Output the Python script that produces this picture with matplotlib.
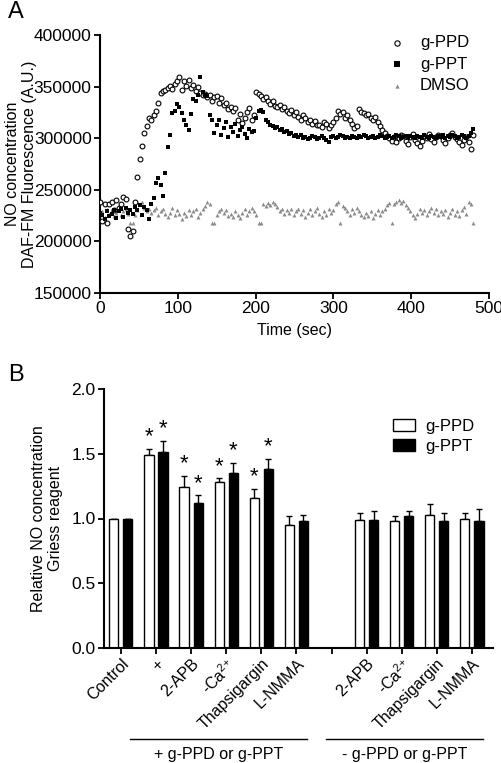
import numpy as np
import matplotlib

matplotlib.use("Agg")
import matplotlib.pyplot as plt
from matplotlib.lines import Line2D
import matplotlib.transforms as mtrans

plt.rcParams["font.family"] = ["Liberation Sans", "DejaVu Sans"]
plt.rcParams["mathtext.default"] = "regular"

# ---- Panel A: DAF-FM fluorescence, one reading every 3 s (0..480 s)
time_step = 3
ppd_fluo = [
    238000, 220000, 236000, 218000, 236000, 238000, 230000, 240000, 232000, 236000,
    243000, 241000, 212000, 205000, 210000, 238000, 262000, 280000, 292000, 305000,
    312000, 320000, 318000, 322000, 326000, 334000, 344000, 346000, 347000, 349000,
    351000, 348000, 353000, 355000, 359000, 347000, 355000, 351000, 356000, 349000,
    352000, 346000, 350000, 344000, 342000, 343000, 340000, 342000, 336000, 340000,
    341000, 334000, 339000, 332000, 334000, 328000, 330000, 326000, 329000, 318000,
    323000, 315000, 320000, 325000, 329000, 318000, 322000, 345000, 343000, 341000,
    338000, 340000, 336000, 333000, 336000, 331000, 330000, 332000, 328000, 330000,
    326000, 324000, 327000, 322000, 325000, 321000, 318000, 322000, 320000, 316000,
    318000, 314000, 317000, 313000, 313000, 311000, 316000, 314000, 310000, 313000,
    316000, 320000, 326000, 323000, 325000, 320000, 322000, 318000, 314000, 310000,
    312000, 328000, 325000, 324000, 322000, 323000, 320000, 318000, 321000, 316000,
    312000, 308000, 305000, 302000, 300000, 297000, 301000, 296000, 300000, 303000,
    302000, 297000, 294000, 301000, 304000, 298000, 295000, 292000, 297000, 302000,
    300000, 304000, 299000, 296000, 301000, 303000, 302000, 298000, 295000, 300000,
    303000, 305000, 301000, 299000, 296000, 293000, 298000, 301000, 296000, 290000,
    303000,
]
ppt_fluo = [
    228000, 226000, 222000, 229000, 225000, 227000, 230000, 223000, 229000, 231000,
    224000, 232000, 228000, 230000, 227000, 233000, 230000, 235000, 226000, 233000,
    230000, 222000, 236000, 242000, 257000, 261000, 255000, 244000, 266000, 291000,
    303000, 324000, 326000, 333000, 330000, 324000, 318000, 313000, 308000, 323000,
    338000, 336000, 342000, 359000, 345000, 342000, 341000, 322000, 318000, 305000,
    313000, 318000, 303000, 310000, 316000, 301000, 311000, 306000, 314000, 302000,
    308000, 311000, 304000, 300000, 309000, 306000, 307000, 320000, 326000, 327000,
    325000, 318000, 316000, 313000, 312000, 310000, 311000, 308000, 309000, 306000,
    307000, 304000, 305000, 302000, 303000, 301000, 303000, 300000, 301000, 299000,
    300000, 302000, 301000, 299000, 300000, 302000, 300000, 298000, 296000, 301000,
    302000, 300000, 301000, 303000, 302000, 300000, 301000, 300000, 302000, 301000,
    300000, 302000, 301000, 303000, 302000, 300000, 301000, 302000, 300000, 301000,
    303000, 302000, 300000, 301000, 302000, 300000, 301000, 303000, 302000, 300000,
    301000, 302000, 300000, 302000, 301000, 300000, 302000, 301000, 300000, 303000,
    301000, 300000, 302000, 301000, 300000, 302000, 301000, 303000, 300000, 302000,
    301000, 303000, 302000, 300000, 301000, 303000, 302000, 300000, 302000, 305000,
    309000,
]
dmso_fluo = [
    226000, 229000, 224000, 231000, 227000, 230000, 225000, 228000, 232000, 226000,
    229000, 231000, 227000, 218000, 218000, 226000, 230000, 236000, 238000, 232000,
    229000, 231000, 228000, 230000, 232000, 226000, 229000, 231000, 227000, 224000,
    228000, 232000, 226000, 230000, 227000, 222000, 228000, 225000, 230000, 226000,
    229000, 231000, 224000, 228000, 231000, 234000, 238000, 236000, 218000, 218000,
    226000, 229000, 231000, 228000, 230000, 225000, 227000, 224000, 229000, 226000,
    223000, 228000, 231000, 226000, 229000, 232000, 229000, 226000, 218000, 218000,
    236000, 234000, 237000, 235000, 238000, 236000, 233000, 229000, 231000, 227000,
    230000, 228000, 231000, 226000, 229000, 231000, 227000, 230000, 224000, 228000,
    231000, 226000, 229000, 232000, 227000, 224000, 229000, 226000, 231000, 228000,
    230000, 236000, 238000, 218000, 234000, 232000, 229000, 226000, 231000, 228000,
    232000, 229000, 226000, 224000, 228000, 225000, 229000, 223000, 227000, 230000,
    226000, 229000, 231000, 235000, 237000, 218000, 236000, 238000, 240000, 237000,
    239000, 235000, 232000, 229000, 226000, 223000, 227000, 231000, 228000, 230000,
    226000, 229000, 232000, 228000, 231000, 226000, 229000, 227000, 230000, 224000,
    228000, 231000, 226000, 229000, 225000, 230000, 233000, 227000, 238000, 236000,
    218000,
]

# ---- Panel B: Griess assay
categories = ["Control", "+", "2-APB", "-Ca$^{2{+}}$", "Thapsigargin", "L-NMMA",
              "", "2-APB", "-Ca$^{2{+}}$", "Thapsigargin", "L-NMMA"]
ppd_mean = [1.00, 1.49, 1.24, 1.28, 1.16, 0.95, np.nan, 0.99, 0.98, 1.03, 1.00]
ppd_err = [0.00, 0.05, 0.09, 0.03, 0.07, 0.07, np.nan, 0.05, 0.04, 0.08, 0.04]
ppt_mean = [1.00, 1.51, 1.12, 1.35, 1.38, 0.98, np.nan, 0.99, 1.02, 0.98, 0.98]
ppt_err = [0.00, 0.09, 0.06, 0.08, 0.08, 0.05, np.nan, 0.07, 0.04, 0.06, 0.09]
ppd_sig = [False, True, True, True, True, False, False, False, False, False, False]
ppt_sig = [False, True, True, True, True, False, False, False, False, False, False]
groups = [("+ g-PPD or g-PPT", 0.26, 5.3), ("- g-PPD or g-PPT", 5.84, 10.31)]

fig = plt.figure(figsize=(5.02, 7.63), dpi=100)

# ---------------- panel A
axA = fig.add_axes([100 / 502, 1 - 293 / 763, 389 / 502, 258 / 763])
t = np.arange(len(ppd_fluo)) * time_step
axA.scatter(t, dmso_fluo, marker="^", s=8, color="#8a8a8a", linewidths=0,
            label="DMSO", zorder=2)
axA.scatter(t, ppd_fluo, marker="o", s=12, facecolors="white", edgecolors="black",
            linewidths=0.8, label="g-PPD", zorder=3)
axA.scatter(t, ppt_fluo, marker="s", s=11, color="black", linewidths=0,
            label="g-PPT", zorder=4)
axA.set_xlim(0, 500)
axA.set_ylim(150000, 400000)
axA.set_xticks(range(0, 501, 100))
axA.set_yticks(range(150000, 400001, 50000))
axA.set_xlabel("Time (sec)", fontsize=11.5, labelpad=5)
axA.set_ylabel("NO concentration\nDAF-FM Fluorescence (A.U.)", fontsize=11.5)
axA.yaxis.set_label_coords(-0.162, 0.5)
h, l = axA.get_legend_handles_labels()
order = [1, 2, 0]
axA.legend([h[i] for i in order], [l[i] for i in order], loc="upper left",
           bbox_to_anchor=(0.743, 1.0), frameon=False, fontsize=12,
           borderaxespad=0, borderpad=0, handlelength=1.0, handletextpad=0.85,
           labelspacing=0.4, markerscale=1.1)

# ---------------- panel B
axB = fig.add_axes([104 / 502, 1 - 648 / 763, 389 / 502, 259 / 763])
x = np.arange(len(categories))
w, off = 0.26, 0.2
axB.bar(x - off, ppd_mean, w, color="white", edgecolor="black", linewidth=1.0,
        label="g-PPD", zorder=2)
axB.bar(x + off, ppt_mean, w, color="black", edgecolor="black", linewidth=1.0,
        label="g-PPT", zorder=2)
zeros = np.zeros(len(x))
axB.errorbar(x - off, ppd_mean, yerr=[zeros, ppd_err], fmt="none", ecolor="black",
             elinewidth=1.0, capsize=2.5, capthick=1.0, zorder=1)
axB.errorbar(x + off, ppt_mean, yerr=[zeros, ppt_err], fmt="none", ecolor="black",
             elinewidth=1.0, capsize=2.5, capthick=1.0, zorder=1)
for xi, m, e, s in zip(x - off, ppd_mean, ppd_err, ppd_sig):
    if s:
        axB.text(xi, m + e + 0.01, "*", ha="center", va="bottom", fontsize=16)
for xi, m, e, s in zip(x + off, ppt_mean, ppt_err, ppt_sig):
    if s:
        axB.text(xi, m + e + 0.01, "*", ha="center", va="bottom", fontsize=16)

axB.set_xlim(-0.48, 10.6)
axB.set_ylim(0, 2.0)
axB.set_yticks([0.0, 0.5, 1.0, 1.5, 2.0])
axB.set_yticklabels(["0.0", "0.5", "1.0", "1.5", "2.0"])
axB.set_xticks(x)
axB.set_xticklabels(categories, rotation=45, ha="right", rotation_mode="anchor",
                    fontsize=11.5)
axB.set_ylabel("Relative NO concentration\nGriess reagent", fontsize=11.5)
axB.yaxis.set_label_coords(-0.105, 0.5)
axB.legend(loc="upper left", bbox_to_anchor=(0.743, 0.885), frameon=False, fontsize=12,
           borderaxespad=0, borderpad=0, handlelength=1.32, handleheight=0.75,
           handletextpad=0.6, labelspacing=0.3)

trans = mtrans.blended_transform_factory(axB.transData, axB.transAxes)
for label, x0, x1 in groups:
    axB.add_line(Line2D([x0, x1], [-0.351, -0.351], transform=trans, color="black",
                        linewidth=1.0, clip_on=False))
    axB.text((x0 + x1) / 2, -0.41, label, transform=trans, ha="center", va="center",
             fontsize=11.5)

for ax in (axA, axB):
    for side in ("top", "right"):
        ax.spines[side].set_visible(False)
    for side in ("left", "bottom"):
        ax.spines[side].set_linewidth(1.5)
    ax.tick_params(direction="out", length=4.5, width=1.3, labelsize=12.5, pad=1.5)
axB.tick_params(axis="x", labelsize=11.5)

fig.text(8 / 502, 1 - 12 / 763, "A", fontsize=17, ha="left", va="center")
fig.text(8 / 502, 1 - 375 / 763, "B", fontsize=17, ha="left", va="center")

fig.savefig("out.png", dpi=100)
